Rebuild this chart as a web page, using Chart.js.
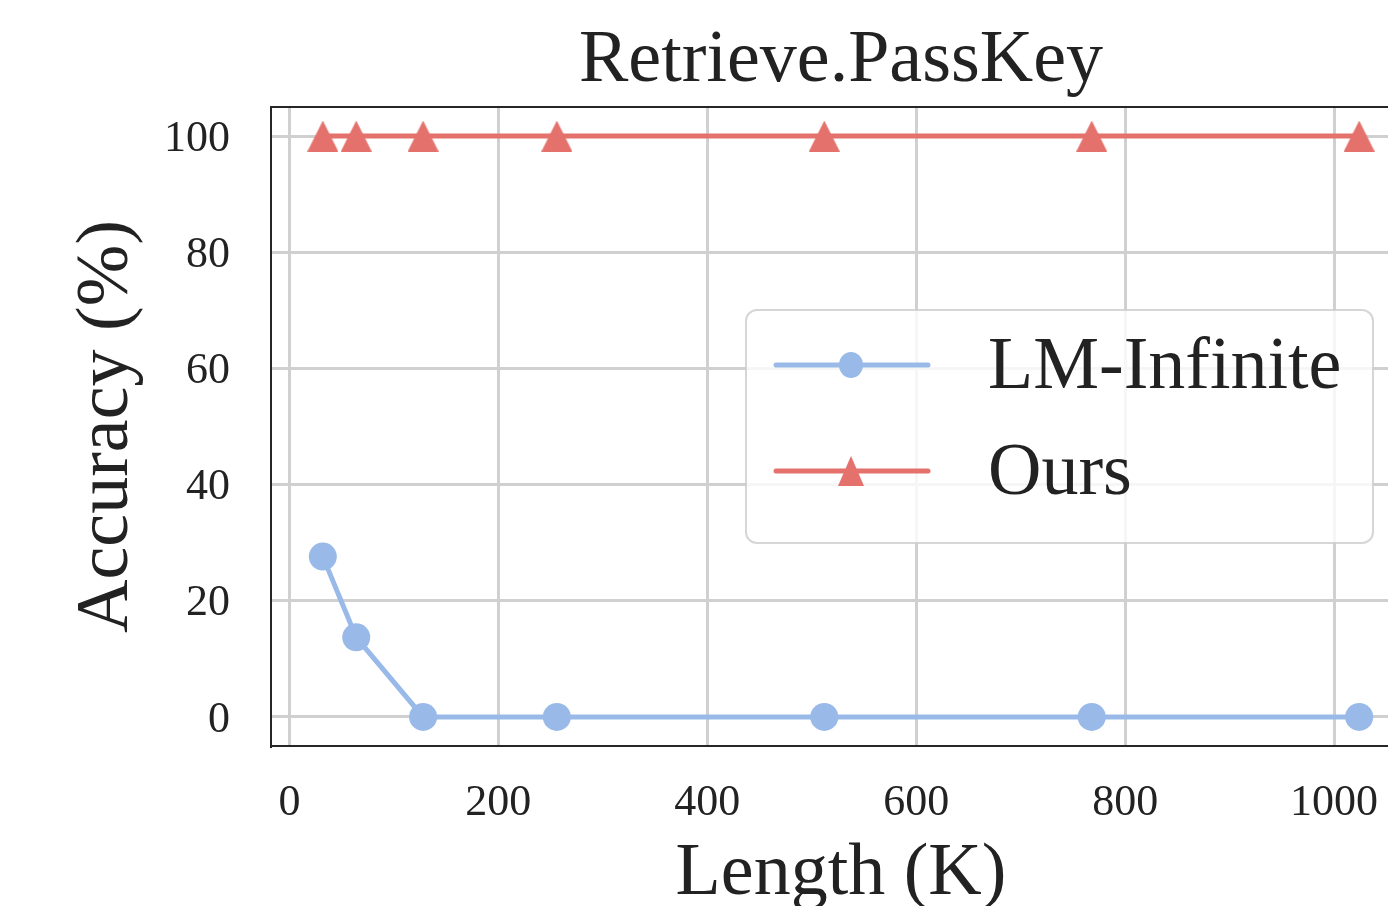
<!DOCTYPE html>
<html>
<head>
<meta charset="utf-8">
<script src="https://cdn.jsdelivr.net/npm/chart.js@4.4.0/dist/chart.umd.min.js"></script>
<style>
  html, body { margin: 0; padding: 0; background: #fff; overflow: hidden; }
  #wrap { width: 1430px; height: 906px; }
</style>
</head>
<body>
<div id="wrap"><canvas id="passkeyChart" width="1430" height="906"></canvas></div>
<script>
// data
const lengths = [32, 64, 128, 256, 512, 768, 1024];
const lmInfinite = [27.6, 13.7, 0, 0, 0, 0, 0];
const ours = [100, 100, 100, 100, 100, 100, 100];
const xTicks = [0, 200, 400, 600, 800, 1000];
const yTicks = [0, 20, 40, 60, 80, 100];
const seriesNames = ["LM-Infinite", "Ours"];

const BLUE = "#99bae8";
const RED = "#e4716c";
const FONT = "'Liberation Serif', 'Times New Roman', serif";
const TEXT = "#222222";

// matplotlib style triangle marker (centred on its bounding box)
function triangleImage(w, h, color) {
  const c = document.createElement("canvas");
  c.width = w;
  c.height = h;
  const g = c.getContext("2d");
  g.fillStyle = color;
  g.beginPath();
  g.moveTo(w / 2, 0);
  g.lineTo(w, h);
  g.lineTo(0, h);
  g.closePath();
  g.fill();
  return c;
}

const redTriangle = triangleImage(31, 31, RED);

// top spine of the axes box
const topSpine = {
  id: "topSpine",
  afterDatasetsDraw(chart) {
    const { ctx, chartArea } = chart;
    ctx.save();
    ctx.strokeStyle = "#262626";
    ctx.lineWidth = 2;
    ctx.beginPath();
    ctx.moveTo(chartArea.left - 1, chartArea.top);
    ctx.lineTo(chartArea.right, chartArea.top);
    ctx.stroke();
    ctx.restore();
  },
};

// legend box placed "center right" inside the axes
const innerLegend = {
  id: "innerLegend",
  afterDatasetsDraw(chart) {
    const { ctx, chartArea } = chart;
    const w = 627;
    const h = 233;
    const x = chartArea.right - 38 - w;
    const y = (chartArea.top + chartArea.bottom) / 2 - h / 2;
    const r = 11;

    ctx.save();
    ctx.beginPath();
    ctx.roundRect(x, y, w, h, r);
    ctx.fillStyle = "rgba(255,255,255,0.8)";
    ctx.fill();
    ctx.strokeStyle = "rgba(204,204,204,0.8)";
    ctx.lineWidth = 2;
    ctx.stroke();

    const rows = [y + 55, y + 161];
    chart.data.datasets.forEach((ds, i) => {
      const ry = rows[i];
      ctx.strokeStyle = ds.borderColor;
      ctx.lineWidth = 5;
      ctx.lineCap = "round";
      ctx.beginPath();
      ctx.moveTo(x + 30, ry);
      ctx.lineTo(x + 182, ry);
      ctx.stroke();

      if (ds.pointStyle === "circle") {
        ctx.fillStyle = ds.pointBackgroundColor;
        ctx.beginPath();
        ctx.ellipse(x + 105, ry, 12, 13, 0, 0, Math.PI * 2);
        ctx.fill();
      } else {
        const img = triangleImage(26, 30, ds.borderColor);
        ctx.drawImage(img, x + 105 - 13, ry - 15);
      }

      ctx.fillStyle = TEXT;
      ctx.font = "74px " + FONT;
      ctx.textAlign = "left";
      ctx.textBaseline = "middle";
      ctx.fillText(ds.label, x + 242, ry + 4);
    });
    ctx.restore();
  },
};

const ctx = document.getElementById("passkeyChart").getContext("2d");

new Chart(ctx, {
  type: "line",
  data: {
    datasets: [
      {
        label: seriesNames[0],
        data: lengths.map((v, i) => ({ x: v, y: lmInfinite[i] })),
        borderColor: BLUE,
        backgroundColor: BLUE,
        pointBackgroundColor: BLUE,
        pointStyle: "circle",
        pointRadius: 14,
        pointBorderWidth: 0,
        borderWidth: 5,
        tension: 0,
        fill: false,
      },
      {
        label: seriesNames[1],
        data: lengths.map((v, i) => ({ x: v, y: ours[i] })),
        borderColor: RED,
        backgroundColor: RED,
        pointBackgroundColor: RED,
        pointStyle: redTriangle,
        pointRadius: 16,
        pointBorderWidth: 0,
        borderWidth: 5,
        tension: 0,
        fill: false,
      },
    ],
  },
  options: {
    responsive: false,
    animation: false,
    layout: { padding: { left: 0, right: 19, top: 0, bottom: 0 } },
    plugins: {
      legend: { display: false },
      tooltip: { enabled: false },
      title: {
        display: true,
        text: "Retrieve.PassKey",
        fullSize: false,
        color: TEXT,
        font: { family: FONT, size: 74, weight: "normal", lineHeight: 1 },
        padding: { top: 25, bottom: 8 },
      },
    },
    scales: {
      x: {
        type: "linear",
        min: -17.6,
        max: 1073.6,
        afterBuildTicks: (scale) => {
          scale.ticks = xTicks.map((v) => ({ value: v }));
        },
        afterFit: (scale) => {
          scale.height = 160;
        },
        ticks: {
          padding: 35,
          color: TEXT,
          maxRotation: 0,
          autoSkip: false,
          font: { family: FONT, size: 44, lineHeight: 1 },
          callback: (value) => String(value),
        },
        grid: { color: "#d0d0d0", lineWidth: 3, drawTicks: false },
        border: { display: true, color: "#262626", width: 2 },
        title: {
          display: true,
          text: "Length (K)",
          color: TEXT,
          font: { family: FONT, size: 74, lineHeight: 1 },
          padding: { top: 0, bottom: -6 },
        },
      },
      y: {
        min: -5,
        max: 105,
        afterBuildTicks: (scale) => {
          scale.ticks = yTicks.map((v) => ({ value: v }));
        },
        afterFit: (scale) => {
          scale.width = 271;
        },
        ticks: {
          padding: 41,
          labelOffset: 3,
          color: TEXT,
          font: { family: FONT, size: 44, lineHeight: 1 },
          callback: (value) => String(value),
        },
        grid: { color: "#d0d0d0", lineWidth: 3, drawTicks: false },
        border: { display: true, color: "#262626", width: 2 },
        title: {
          display: true,
          text: "Accuracy (%)",
          color: TEXT,
          font: { family: FONT, size: 74, lineHeight: 1 },
          padding: { top: 71, bottom: 0 },
        },
      },
    },
  },
  plugins: [topSpine, innerLegend],
});
</script>
</body>
</html>
